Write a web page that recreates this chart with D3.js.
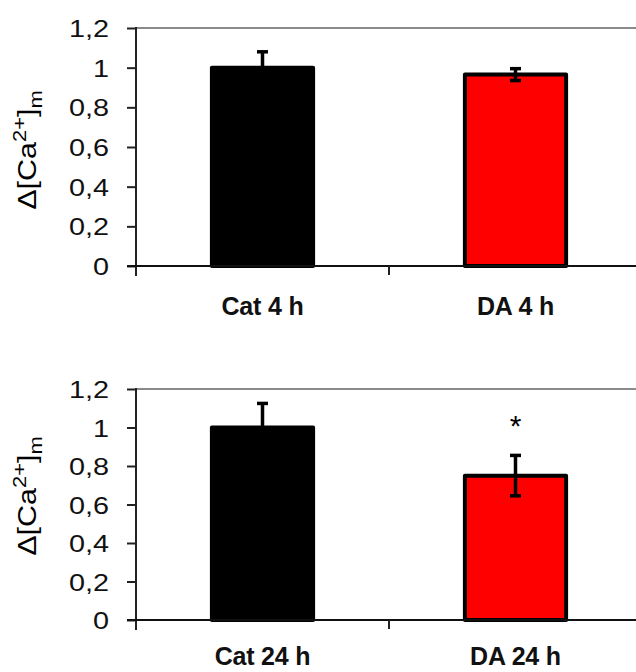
<!DOCTYPE html>
<html>
<head>
<meta charset="utf-8">
<script src="https://cdn.jsdelivr.net/npm/d3@7"></script>
<style>
  html, body { margin: 0; padding: 0; background: #fff; }
  svg { display: block; }
</style>
</head>
<body>
<svg id="chart" width="636" height="672"></svg>
<script>
// ---- data ----
const categoriesTop = ["Cat 4 h", "DA 4 h"];
const valuesTop = [1.0, 0.965];
const errorsTop = [0.08, 0.03];
const marksTop = ["", ""];

const categoriesBottom = ["Cat 24 h", "DA 24 h"];
const valuesBottom = [1.0, 0.75];
const errorsBottom = [0.125, 0.105];
const marksBottom = ["", "*"];

const barColors = ["#000000", "#ff0000"];
const yTicks = [0, 0.2, 0.4, 0.6, 0.8, 1, 1.2];
const yDomain = [0, 1.2];

// ---- layout ----
const svg = d3.select("#chart");
const xLeft = 136, xRight = 642;
const font = "'Liberation Sans', Arial, sans-serif";

const panels = [
  { cats: categoriesTop, vals: valuesTop, errs: errorsTop, marks: marksTop, top: 28, bottom: 266, labelY: 315, titleY: 150 },
  { cats: categoriesBottom, vals: valuesBottom, errs: errorsBottom, marks: marksBottom, top: 389, bottom: 620, labelY: 665, titleY: 496 }
];

const fmt = d => String(d).replace(".", ",");

function stretch(sel, k) {
  sel.each(function () {
    const w = this.getComputedTextLength();
    d3.select(this).attr("textLength", w * k).attr("lengthAdjust", "spacingAndGlyphs");
  });
}

panels.forEach(p => {
  const g = svg.append("g");
  const y = d3.scaleLinear().domain(yDomain).range([p.bottom, p.top]);
  const x = d3.scaleBand().domain(p.cats).range([xLeft, xRight])
    .paddingInner(0.6).paddingOuter(0.3);

  // top frame line
  g.append("line")
    .attr("x1", xLeft).attr("x2", 636)
    .attr("y1", y(yDomain[1])).attr("y2", y(yDomain[1]))
    .attr("stroke", "#8a8a8a").attr("stroke-width", 2);

  // bars
  g.selectAll("rect.bar").data(p.vals).join("rect")
    .attr("class", "bar")
    .attr("x", (d, i) => x(p.cats[i]))
    .attr("width", x.bandwidth())
    .attr("y", d => y(d))
    .attr("height", d => y(0) - y(d))
    .attr("fill", (d, i) => barColors[i])
    .attr("stroke", "#000")
    .attr("stroke-width", 4)
    .attr("stroke-linejoin", "round");

  // error bars
  p.vals.forEach((v, i) => {
    const cx = x(p.cats[i]) + x.bandwidth() / 2;
    const e = p.errs[i];
    const eg = g.append("g").attr("stroke", "#000");
    eg.append("line").attr("x1", cx).attr("x2", cx)
      .attr("y1", y(v + e)).attr("y2", y(v - e)).attr("stroke-width", 3.5);
    [v + e, v - e].forEach(ev => {
      eg.append("line").attr("x1", cx - 5.5).attr("x2", cx + 5.5)
        .attr("y1", y(ev)).attr("y2", y(ev)).attr("stroke-width", 3.5);
    });
    if (p.marks[i]) {
      g.append("text")
        .attr("x", cx).attr("y", y(v + e) - 19)
        .attr("text-anchor", "middle")
        .attr("font-family", font).attr("font-size", 30)
        .attr("fill", "#000")
        .text(p.marks[i]);
    }
  });

  // y axis
  const yAxis = d3.axisLeft(y).tickValues(yTicks).tickFormat(fmt).tickSize(9).tickPadding(18);
  const ya = g.append("g").attr("transform", `translate(${xLeft},0)`).call(yAxis);
  ya.select(".domain").remove();
  ya.selectAll(".tick line").attr("stroke", "#222").attr("stroke-width", 2);
  ya.selectAll(".tick text")
    .attr("font-family", font).attr("font-size", 24).attr("fill", "#111")
    .attr("dy", "0.36em")
    .call(stretch, 1.2);
  g.append("line")
    .attr("x1", xLeft).attr("x2", xLeft)
    .attr("y1", y(yDomain[1]) - 1).attr("y2", y(0) + 10)
    .attr("stroke", "#222").attr("stroke-width", 2);

  // x axis
  g.append("line")
    .attr("x1", xLeft - 9).attr("x2", 636)
    .attr("y1", y(0)).attr("y2", y(0))
    .attr("stroke", "#111").attr("stroke-width", 2);
  const bounds = p.cats.slice(1).map(c => x(c) - x.step() * x.paddingInner() / 2);
  g.selectAll("line.xtick").data(bounds).join("line")
    .attr("class", "xtick")
    .attr("x1", d => d).attr("x2", d => d)
    .attr("y1", y(0)).attr("y2", y(0) + 9)
    .attr("stroke", "#222").attr("stroke-width", 2);

  // category labels
  g.selectAll("text.cat").data(p.cats).join("text")
    .attr("class", "cat")
    .attr("x", d => x(d) + x.bandwidth() / 2)
    .attr("y", p.labelY)
    .attr("text-anchor", "middle")
    .attr("font-family", font).attr("font-size", 25).attr("font-weight", "bold")
    .attr("letter-spacing", -0.2)
    .attr("fill", "#111")
    .text(d => d);

  // y title
  const t = g.append("text")
    .attr("transform", `translate(36,${p.titleY}) rotate(-90) scale(1.22,1)`)
    .attr("text-anchor", "middle")
    .attr("font-family", font).attr("font-size", 25).attr("fill", "#000");
  t.append("tspan").text("Δ[Ca");
  t.append("tspan").attr("font-size", 18).attr("dy", -10).text("2+");
  t.append("tspan").attr("dy", 10).text("]");
  t.append("tspan").attr("font-size", 18).attr("dy", 6).text("m");
});
</script>
</body>
</html>
